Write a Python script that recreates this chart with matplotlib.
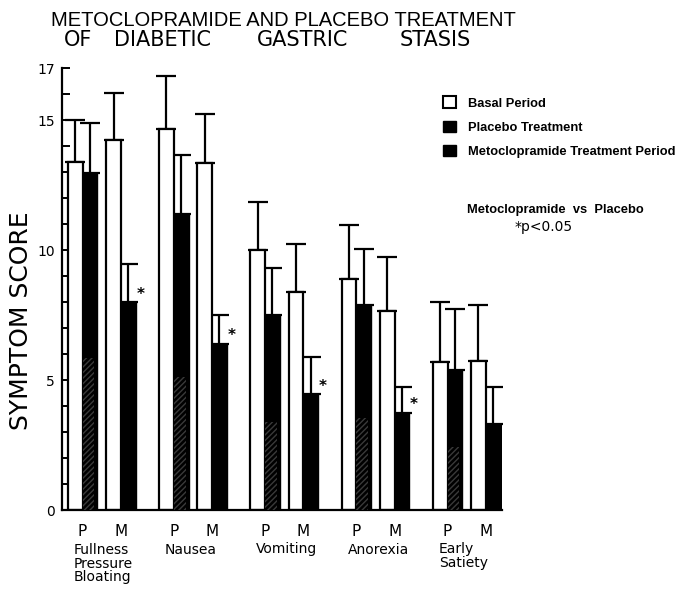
import numpy as np
import matplotlib
matplotlib.use("Agg")
import matplotlib.pyplot as plt
from matplotlib.patches import Patch

# === DONNÉES ===
symptoms = ["Fullness\nPressure\nBloating", "Nausea", "Vomiting", "Anorexia", "Early\nSatiety"]
group_labels = ["P", "M"]

# groupe placebo : période basale / traitement placebo
placebo_basal = [13.4, 14.65, 10.0, 8.9, 5.7]
placebo_basal_sem = [1.6, 2.05, 1.85, 2.05, 2.3]
placebo_treat = [12.95, 11.4, 7.5, 7.9, 5.4]
placebo_treat_sem = [1.95, 2.25, 1.8, 2.15, 2.35]

# groupe métoclopramide : période basale / traitement
meto_basal = [14.25, 13.35, 8.4, 7.65, 5.73]
meto_basal_sem = [1.8, 1.9, 1.85, 2.1, 2.15]
meto_treat = [8.0, 6.4, 4.45, 3.75, 3.3]
meto_treat_sem = [1.45, 1.1, 1.45, 1.0, 1.45]
significant = [True, True, True, True, False]

# === MISE EN PAGE ===
fig = plt.figure(figsize=(6.79, 5.89), dpi=100)
ax = fig.add_axes([62 / 679, 1 - 510 / 589, 440 / 679, 442 / 589])

width = 1.0
step = 6.2
m_offset = 2.6
base = np.arange(len(symptoms)) * step

err_kw = dict(fmt="none", ecolor="black", elinewidth=1.6, capsize=7, capthick=1.6)


def draw_pair(x0, basal, basal_sem, treat, treat_sem, hatched):
    ax.bar(x0, basal, width, align="edge", color="white", edgecolor="black", linewidth=1.6, zorder=2)
    ax.errorbar(x0 + width / 2, basal, yerr=[np.zeros(len(basal)), basal_sem], zorder=1, **err_kw)
    ax.bar(x0 + width, treat, width, align="edge", color="black", edgecolor="black", linewidth=1.0, zorder=2)
    if hatched:
        ax.bar(x0 + width, np.array(treat) * 0.45, width * 0.8, align="edge", fill=False,
               hatch="//////", edgecolor="#3a3a3a", linewidth=0, zorder=3)
    ax.errorbar(x0 + 1.5 * width, treat, yerr=[np.zeros(len(treat)), treat_sem], zorder=1, **err_kw)


draw_pair(base, placebo_basal, placebo_basal_sem, placebo_treat, placebo_treat_sem, True)
draw_pair(base + m_offset, meto_basal, meto_basal_sem, meto_treat, meto_treat_sem, False)

# astérisques
for i, sig in enumerate(significant):
    if sig:
        ax.text(base[i] + m_offset + 2 * width + 0.05, meto_treat[i] + 0.3, "*",
                fontsize=11, fontweight="bold", ha="left", va="center")

# ───── Axes ─────
ax.set_xlim(-0.4, 29.5)
ax.set_ylim(0, 17)
for s in ["top", "right"]:
    ax.spines[s].set_visible(False)
ax.spines["left"].set_linewidth(1.6)
ax.spines["bottom"].set_linewidth(1.6)

ax.set_yticks(np.arange(0, 18, 1))
ax.set_yticklabels([str(v) if v in (0, 5, 10, 15, 17) else "" for v in range(18)], fontsize=10)
ax.tick_params(axis="y", direction="in", length=6, width=1.4, pad=5)
ax.set_xticks([])

fig.text(21 / 679, 1 - 321 / 589, "SYMPTOM SCORE", fontsize=18, rotation=90,
         ha="center", va="center")

# étiquettes P / M et noms des symptômes
for i, name in enumerate(symptoms):
    for j, lab in enumerate(group_labels):
        ax.text(base[i] + j * m_offset + width, -0.55, lab, fontsize=11,
                ha="center", va="top")
    ax.text(base[i] + 0.4, -1.25, name, fontsize=10, ha="left", va="top", linespacing=1.0)

# ───── Titre ─────
fig.text(0.075, 1 - 20 / 589, "METOCLOPRAMIDE AND PLACEBO TREATMENT", fontsize=14.5,
         family="Liberation Sans", ha="left", va="center")
title_words = ["OF", "DIABETIC", "GASTRIC", "STASIS"]
title_x = [78, 162, 303, 435]  # centres des mots (px)
for word, xp in zip(title_words, title_x):
    fig.text(xp / 679, 1 - 40 / 589, word, fontsize=15, ha="center", va="center")

# ───── Légende ─────
handles = [
    Patch(facecolor="white", edgecolor="black", linewidth=1.5),
    Patch(facecolor="black", edgecolor="black", hatch="////"),
    Patch(facecolor="black", edgecolor="black"),
]
labels = ["Basal Period", "Placebo Treatment", "Metoclopramide Treatment Period"]
fig.legend(handles, labels, loc="upper left", bbox_to_anchor=(0.645, 0.845), frameon=False,
           prop={"size": 9.3, "weight": "bold", "family": "Liberation Sans"},
           handlelength=1.0, handleheight=1.0,
           labelspacing=0.85, handletextpad=0.95, borderaxespad=0)

fig.text(467 / 679, 1 - 210 / 589, "Metoclopramide  vs  Placebo", fontsize=9.3, fontweight="bold",
         family="Liberation Sans", ha="left", va="center")
fig.text(515 / 679, 1 - 227 / 589, "*p<0.05", fontsize=10, ha="left", va="center")

fig.savefig("out.png", dpi=100)
